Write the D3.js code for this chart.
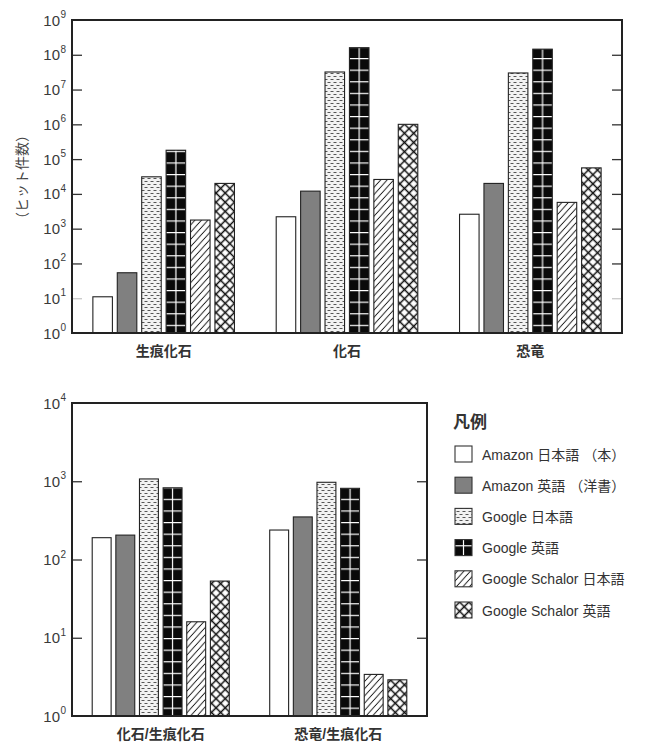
<!DOCTYPE html>
<html><head><meta charset="utf-8">
<script src="https://cdn.jsdelivr.net/npm/d3@7"></script>
<style>
body{margin:0;background:#fff;}
text{font-family:"Liberation Sans","Noto Sans CJK JP",sans-serif;}
</style></head>
<body><svg id="c" width="653" height="743"></svg>
<script>
const series = ["Amazon 日本語 （本）","Amazon 英語 （洋書）","Google 日本語","Google 英語","Google Schalor 日本語","Google Schalor 英語"];
const seriesKeys = ["amzJa","amzEn","gJa","gEn","gsJa","gsEn"];
const topCategories = ["生痕化石","化石","恐竜"];
const topAmzJa = [11, 2200, 2600];
const topAmzEn = [54, 12000, 20000];
const topGJa = [31000, 3.2e7, 3.0e7];
const topGEn = [180000, 1.6e8, 1.45e8];
const topGsJa = [1770, 26000, 5700];
const topGsEn = [20000, 1e6, 56000];
const topTicks = [1,1e1,1e2,1e3,1e4,1e5,1e6,1e7,1e8,1e9];

const botCategories = ["化石/生痕化石","恐竜/生痕化石"];
const botAmzJa = [190, 238];
const botAmzEn = [205, 350];
const botGJa = [1070, 970];
const botGEn = [825, 812];
const botGsJa = [16, 3.4];
const botGsEn = [53, 2.9];
const botTicks = [1,1e1,1e2,1e3,1e4];

const yTitle = "（ヒット件数）";
const legendTitle = "凡例";

const svg = d3.select("#c");
const defs = svg.append("defs");
const fills = {};
fills.amzJa = "#ffffff";
fills.amzEn = "#808080";
(function(){
  const p = defs.append("pattern").attr("id","pDot").attr("patternUnits","userSpaceOnUse").attr("width",6).attr("height",6);
  p.append("rect").attr("width",6).attr("height",6).attr("fill","#f2f2f2");
  p.append("line").attr("x1",0.5).attr("x2",3.5).attr("y1",1.5).attr("y2",1.5).attr("stroke","#555").attr("stroke-width",1);
  p.append("line").attr("x1",3.5).attr("x2",6.5).attr("y1",4.5).attr("y2",4.5).attr("stroke","#555").attr("stroke-width",1);
  p.append("line").attr("x1",-0.5).attr("x2",0.5).attr("y1",4.5).attr("y2",4.5).attr("stroke","#555").attr("stroke-width",1);
  fills.gJa = "url(#pDot)";
  const h = defs.append("pattern").attr("id","pHatch").attr("patternUnits","userSpaceOnUse").attr("width",6.5).attr("height",7).attr("patternTransform","skewX(-42)");
  h.append("rect").attr("width",6.5).attr("height",7).attr("fill","#fff");
  h.append("line").attr("x1",3.2).attr("x2",3.2).attr("y1",0).attr("y2",7).attr("stroke","#222").attr("stroke-width",1.3);
  fills.gsJa = "url(#pHatch)";
  const x = defs.append("pattern").attr("id","pCross").attr("patternUnits","userSpaceOnUse").attr("width",6.5).attr("height",6.5).attr("patternTransform","rotate(45)");
  x.append("rect").attr("width",6.5).attr("height",6.5).attr("fill","#fff");
  x.append("line").attr("x1",0).attr("x2",6.5).attr("y1",3.25).attr("y2",3.25).attr("stroke","#111").attr("stroke-width",1.5);
  x.append("line").attr("x1",3.25).attr("x2",3.25).attr("y1",0).attr("y2",6.5).attr("stroke","#111").attr("stroke-width",1.5);
  fills.gsEn = "url(#pCross)";
})();
let gridCount = 0;
function gridPattern(x0, w){
  const id = "pGrid" + (gridCount++);
  const g = defs.append("pattern").attr("id",id).attr("patternUnits","userSpaceOnUse")
    .attr("x",x0).attr("y",0).attr("width",w).attr("height",11.6);
  g.append("rect").attr("width",w).attr("height",11.6).attr("fill","#0a0a0a");
  g.append("line").attr("x1",0).attr("x2",w).attr("y1",0.6).attr("y2",0.6).attr("stroke","#fff").attr("stroke-width",1.2);
  g.append("line").attr("x1",w/2).attr("x2",w/2).attr("y1",0).attr("y2",11.6).attr("stroke","#fff").attr("stroke-width",1.2);
  return "url(#"+id+")";
}

function drawChart(cfg){
  const {left,right,top,bottom,cats,data,ticks,domain,lightTick} = cfg;
  const g = svg.append("g");
  const x = d3.scaleBand().domain(cats).range([left,right]).padding(0);
  const xi = d3.scaleBand().domain(seriesKeys).range([0,x.bandwidth()]).paddingInner(0.2).paddingOuter(0.855);
  const y = d3.scaleLog().domain(domain).range([bottom,top]);
  cats.forEach((c,ci)=>{
    seriesKeys.forEach((k)=>{
      const v = data[k][ci];
      const bx = x(c)+xi(k), bw = xi.bandwidth();
      const f = k==="gEn" ? gridPattern(bx, bw) : fills[k];
      g.append("rect")
        .attr("x", bx).attr("width", bw)
        .attr("y", y(v)).attr("height", bottom - y(v))
        .attr("fill", f).attr("stroke","#222").attr("stroke-width",1.1);
    });
  });
  const inner = ticks.filter(t=>t>domain[0] && t<domain[1]);
  const la = g.append("g").attr("transform",`translate(${left},0)`)
    .call(d3.axisRight(y).tickValues(inner).tickSize(10).tickFormat(""));
  const ra = g.append("g").attr("transform",`translate(${right},0)`)
    .call(d3.axisLeft(y).tickValues(inner).tickSize(10).tickFormat(""));
  [la,ra].forEach(a=>{a.select(".domain").remove(); a.selectAll("line").attr("stroke",d=>d===lightTick?"#c8c8c8":"#333").attr("stroke-width",1.3);});
  g.append("rect").attr("x",left).attr("y",top).attr("width",right-left).attr("height",bottom-top)
    .attr("fill","none").attr("stroke","#222").attr("stroke-width",2);
  ticks.forEach(t=>{
    const e = Math.round(Math.log10(t));
    g.append("text").attr("x",60).attr("y",y(t)+5.5).attr("text-anchor","end")
      .attr("font-size",15).attr("fill","#3a3a3a").text("10");
    g.append("text").attr("x",60.5).attr("y",y(t)-2).attr("font-size",10).attr("fill","#3a3a3a").text(e);
  });
  cats.forEach(c=>{
    g.append("text").attr("x",x(c)+x.bandwidth()/2).attr("y",bottom+23).attr("text-anchor","middle")
      .attr("font-size",14).attr("font-weight","bold").attr("fill","#333").text(c);
  });
  return {x,y};
}

drawChart({left:72,right:622,top:20,bottom:333,cats:topCategories,
  data:{amzJa:topAmzJa,amzEn:topAmzEn,gJa:topGJa,gEn:topGEn,gsJa:topGsJa,gsEn:topGsEn},
  ticks:topTicks,domain:[1,1e9],lightTick:10});
drawChart({left:72,right:427,top:403,bottom:716,cats:botCategories,
  data:{amzJa:botAmzJa,amzEn:botAmzEn,gJa:botGJa,gEn:botGEn,gsJa:botGsJa,gsEn:botGsEn},
  ticks:botTicks,domain:[1,1e4],lightTick:null});

svg.append("text").attr("transform","translate(27,177) rotate(-90)").attr("text-anchor","middle")
  .attr("font-size",14).attr("fill","#444").text(yTitle);

const lg = svg.append("g");
lg.append("text").attr("x",453).attr("y",428).attr("font-size",17).attr("font-weight","bold").attr("fill","#333").text(legendTitle);
seriesKeys.forEach((k,i)=>{
  const yy = 446 + i*31.2;
  const f = k==="gEn" ? gridPattern(455, 17) : fills[k];
  lg.append("rect").attr("x",455).attr("y",yy).attr("width",17).attr("height",16)
    .attr("fill",f).attr("stroke","#333").attr("stroke-width",1.1);
  lg.append("text").attr("x",482).attr("y",yy+13.5).attr("font-size",14).attr("fill","#333").text(series[i]);
});
</script></body></html>
